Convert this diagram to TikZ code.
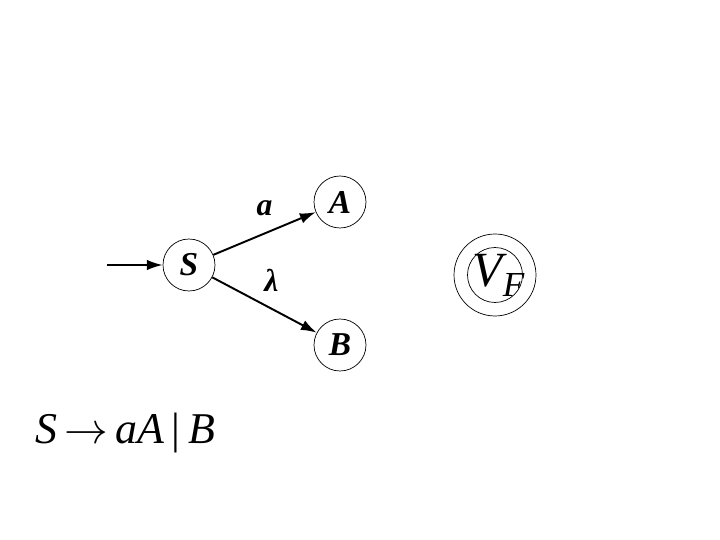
\documentclass[tikz,border=0pt]{standalone}
\usepackage{fontspec}
\setmainfont{Liberation Serif}
\usetikzlibrary{arrows.meta,positioning}

\begin{document}
\begin{tikzpicture}[x=0.02cm,y=-0.02cm,>={Latex[length=9pt,width=6pt]},
    state/.style={draw,circle,minimum size=1.04cm,inner sep=0pt,font=\fontsize{19}{19}\selectfont\bfseries\itshape},
    lbl/.style={font=\fontsize{18}{18}\selectfont\bfseries\itshape},
    trans/.style={->,line width=1.1pt}]
  \useasboundingbox (0,0) rectangle (720,540);
  % states
  \node[state] (S) at (189,265) {S};
  \node[state] (A) at (340,202) {A};
  \node[state] (B) at (340,345) {B};
  \node[state,minimum size=1.1cm] (VF) at (495,275) {};
  \node[draw,circle,minimum size=1.64cm] (VFo) at (VF) {};
  \node[font=\fontsize{28}{28}\selectfont\itshape,inner sep=0pt] (VFlbl) at ([xshift=2pt]VF)
    {V\raisebox{-0.45ex}{\fontsize{20}{20}\selectfont F}};
  % start arrow
  \coordinate (in) at (107,265);
  \draw[trans] (in) -- (S);
  % transitions
  \draw[trans] (S) -- (A) node[midway,above=6pt,lbl] {a};
  \draw[trans] (S) -- (B) node[midway,above right=4pt and -4pt,lbl] {λ};
  % grammar rule
  \node[anchor=west,font=\fontsize{25}{25}\selectfont,inner sep=0pt] (rule) at (35,433)
    {\textit{S}\,$\rightarrow$\,\textit{aA}\,|\,\textit{B}};
\end{tikzpicture}
\end{document}
